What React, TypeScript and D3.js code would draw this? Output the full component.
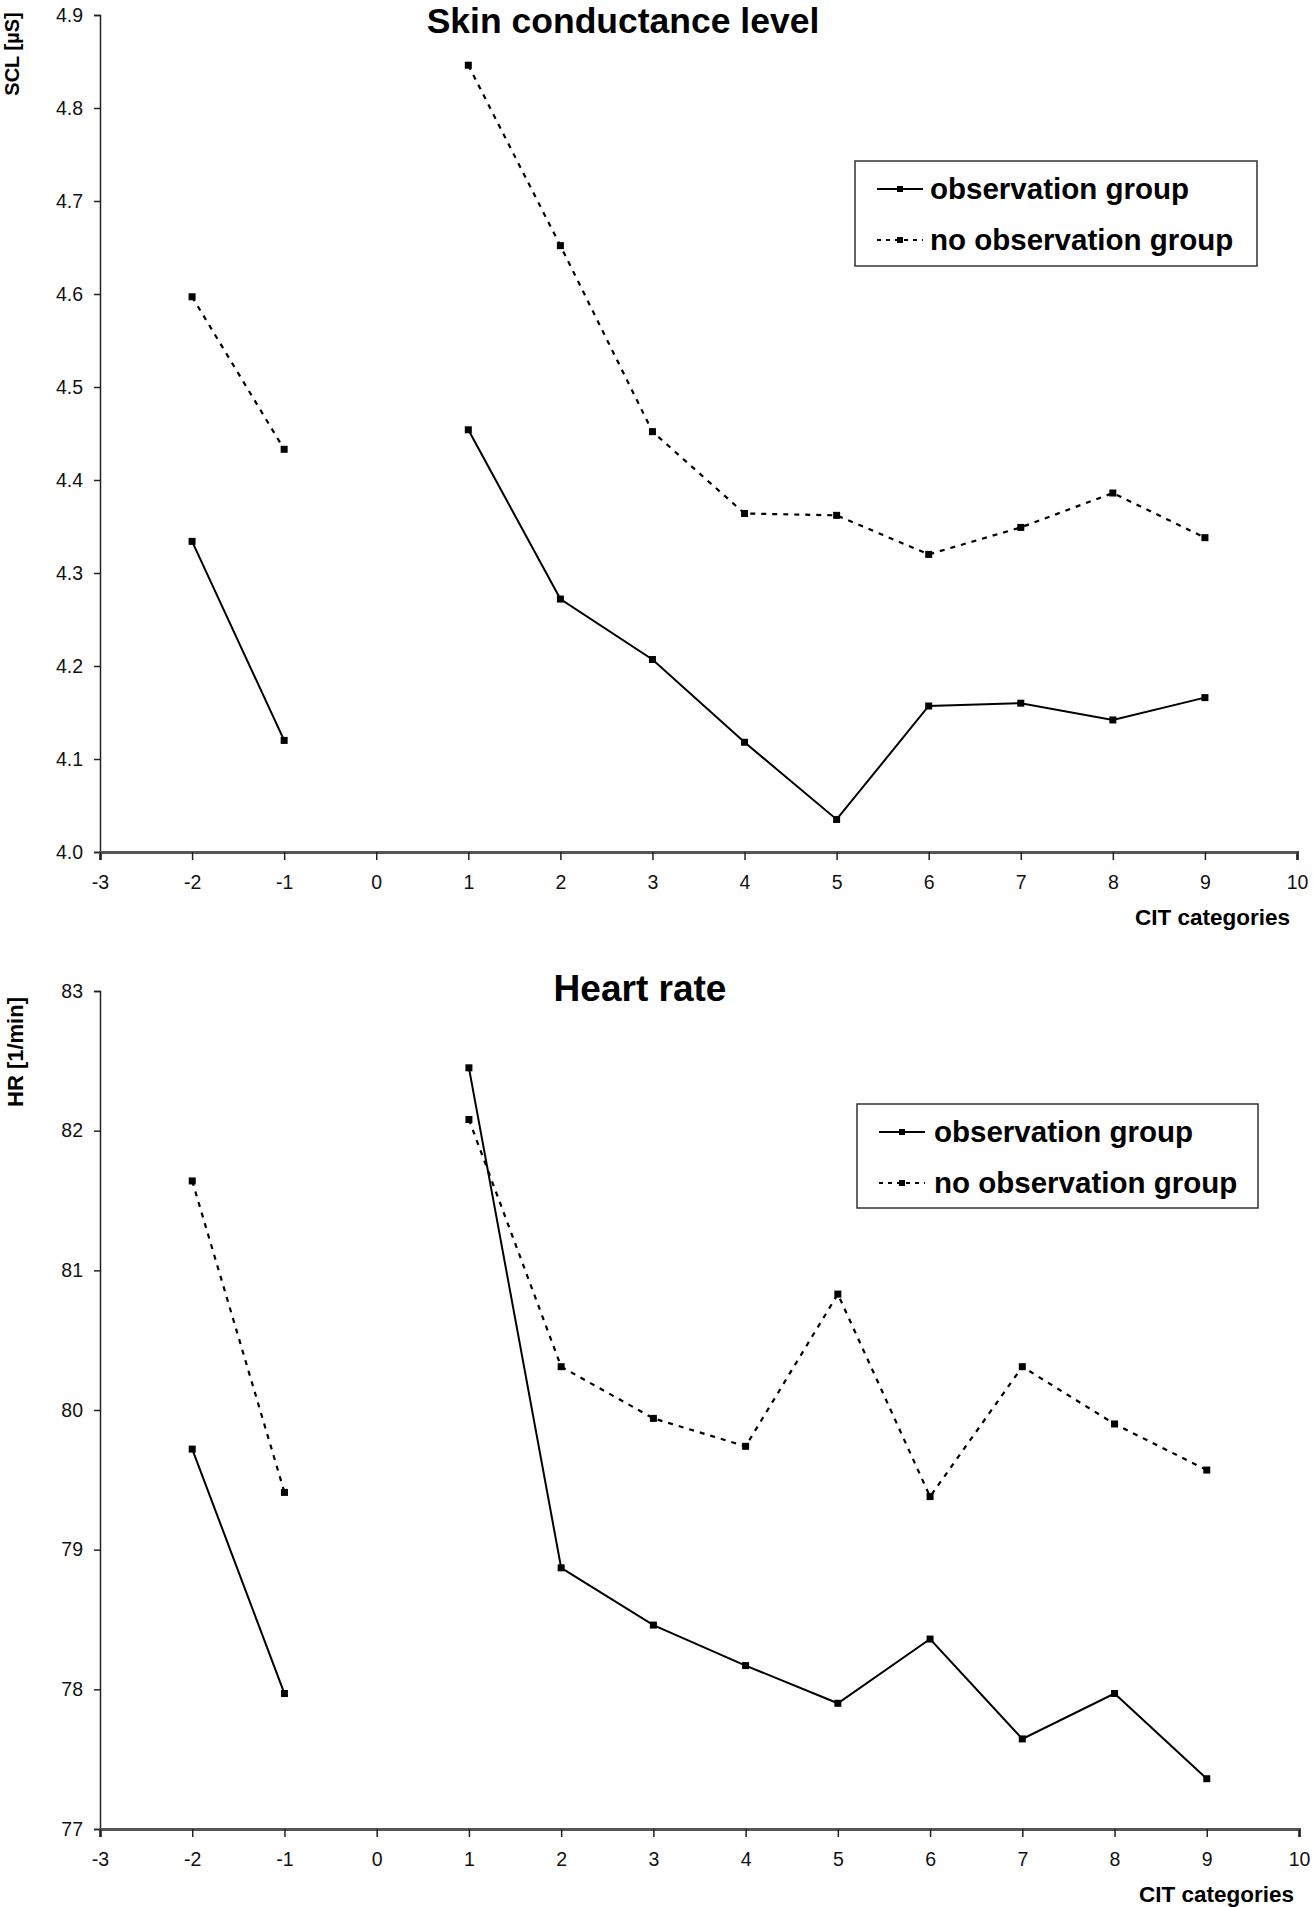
import { useEffect, useRef } from "react";
import * as d3 from "d3";

// CIT categories (0 has no measurement -> gap in the lines)
const categories = [-2, -1, 0, 1, 2, 3, 4, 5, 6, 7, 8, 9];
const xTickValues = [-3, -2, -1, 0, 1, 2, 3, 4, 5, 6, 7, 8, 9, 10];

const sclObservation = [4.334, 4.12, null, 4.454, 4.272, 4.207, 4.118, 4.035, 4.157, 4.16, 4.142, 4.166];
const sclNoObservation = [4.597, 4.433, null, 4.846, 4.652, 4.452, 4.364, 4.362, 4.32, 4.349, 4.386, 4.338];
const sclTicks = [4.0, 4.1, 4.2, 4.3, 4.4, 4.5, 4.6, 4.7, 4.8, 4.9];

const hrObservation = [79.72, 77.97, null, 82.45, 78.87, 78.46, 78.17, 77.9, 78.36, 77.645, 77.97, 77.36];
const hrNoObservation = [81.64, 79.41, null, 82.08, 80.31, 79.94, 79.74, 80.83, 79.38, 80.31, 79.9, 79.57];
const hrTicks = [77, 78, 79, 80, 81, 82, 83];

const legendLabels = ["observation group", "no observation group"];

const FONT = "'Liberation Sans', Arial, Helvetica, sans-serif";

interface PanelConfig {
  title: string;
  titleX: number;
  titleY: number;
  titleSize: number;
  yLabel: string;
  yLabelX: number;
  yLabelY: number;
  yLabelSize: number;
  yTicks: number[];
  yFormat: (d: number) => string;
  plotTop: number;
  plotBottom: number;
  plotLeft: number;
  plotRight: number;
  solid: (number | null)[];
  dashed: (number | null)[];
  legend: { x: number; y: number; w: number; h: number; textX: number };
  xLabelX: number;
  xLabelY: number;
}

function drawPanel(
  root: d3.Selection<SVGSVGElement, unknown, null, undefined>,
  cfg: PanelConfig
) {
  const g = root.append("g");

  const x = d3.scaleLinear().domain([-3, 10]).range([cfg.plotLeft, cfg.plotRight]);
  const y = d3
    .scaleLinear()
    .domain([cfg.yTicks[0], cfg.yTicks[cfg.yTicks.length - 1]])
    .range([cfg.plotBottom, cfg.plotTop]);

  // y axis
  const yAxis = g
    .append("g")
    .attr("transform", `translate(${cfg.plotLeft},0)`)
    .call(
      d3
        .axisLeft(y)
        .tickValues(cfg.yTicks)
        .tickSize(6)
        .tickPadding(11)
        .tickFormat((d) => cfg.yFormat(d as number))
    );
  yAxis.attr("font-family", FONT).attr("font-size", 19.5);
  yAxis.select(".domain").attr("stroke", "#222").attr("stroke-width", 1.5);
  yAxis.selectAll(".tick line").attr("stroke", "#222").attr("stroke-width", 1.5);
  yAxis.selectAll(".tick text").attr("fill", "#111");

  // x axis
  const xAxis = g
    .append("g")
    .attr("transform", `translate(0,${cfg.plotBottom})`)
    .call(
      d3
        .axisBottom(x)
        .tickValues(xTickValues)
        .tickSize(8)
        .tickPadding(15)
        .tickFormat((d) => String(d))
    );
  xAxis.attr("font-family", FONT).attr("font-size", 19.5);
  xAxis.select(".domain").attr("stroke", "#555").attr("stroke-width", 3);
  xAxis.selectAll(".tick line").attr("stroke", "#222").attr("stroke-width", 1.5);
  xAxis.selectAll(".tick text").attr("fill", "#111");

  // lines
  const pts = (vals: (number | null)[]) =>
    categories.map((c, i) => ({ c, v: vals[i] }));

  const line = d3
    .line<{ c: number; v: number | null }>()
    .defined((d) => d.v !== null)
    .x((d) => x(d.c))
    .y((d) => y(d.v as number));

  g.append("path")
    .datum(pts(cfg.dashed))
    .attr("fill", "none")
    .attr("stroke", "#000")
    .attr("stroke-width", 2.2)
    .attr("stroke-dasharray", "5,6")
    .attr("d", line);

  g.append("path")
    .datum(pts(cfg.solid))
    .attr("fill", "none")
    .attr("stroke", "#000")
    .attr("stroke-width", 2)
    .attr("d", line);

  const markers = [...pts(cfg.solid), ...pts(cfg.dashed)].filter((d) => d.v !== null);
  g.selectAll(".mk")
    .data(markers)
    .enter()
    .append("rect")
    .attr("x", (d) => x(d.c) - 3.5)
    .attr("y", (d) => y(d.v as number) - 3.5)
    .attr("width", 7)
    .attr("height", 7)
    .attr("fill", "#000");

  // titles
  g.append("text")
    .attr("x", cfg.titleX)
    .attr("y", cfg.titleY)
    .attr("text-anchor", "middle")
    .attr("font-family", FONT)
    .attr("font-weight", "bold")
    .attr("font-size", cfg.titleSize)
    .text(cfg.title);

  g.append("text")
    .attr("transform", `translate(${cfg.yLabelX},${cfg.yLabelY}) rotate(-90)`)
    .attr("text-anchor", "middle")
    .attr("font-family", FONT)
    .attr("font-weight", "bold")
    .attr("font-size", cfg.yLabelSize)
    .text(cfg.yLabel);

  g.append("text")
    .attr("x", cfg.xLabelX)
    .attr("y", cfg.xLabelY)
    .attr("text-anchor", "end")
    .attr("font-family", FONT)
    .attr("font-weight", "bold")
    .attr("font-size", 22.5)
    .text("CIT categories");

  // legend
  const lg = g.append("g").attr("transform", `translate(${cfg.legend.x},${cfg.legend.y})`);
  lg.append("rect")
    .attr("width", cfg.legend.w)
    .attr("height", cfg.legend.h)
    .attr("fill", "#fff")
    .attr("stroke", "#333")
    .attr("stroke-width", 1.5);

  legendLabels.forEach((label, i) => {
    const rowY = 28 + i * 51;
    const dashed = i === 1;
    lg.append("line")
      .attr("x1", 22)
      .attr("x2", 68)
      .attr("y1", rowY)
      .attr("y2", rowY)
      .attr("stroke", "#000")
      .attr("stroke-width", 2)
      .attr("stroke-dasharray", dashed ? "4,5" : null);
    lg.append("rect")
      .attr("x", 42)
      .attr("y", rowY - 3)
      .attr("width", 6)
      .attr("height", 6)
      .attr("fill", "#000");
    lg.append("text")
      .attr("x", cfg.legend.textX)
      .attr("y", rowY + 10)
      .attr("font-family", FONT)
      .attr("font-weight", "bold")
      .attr("font-size", 29.5)
      .text(label);
  });
}

export default function App() {
  const svgRef = useRef<SVGSVGElement>(null);

  useEffect(() => {
    if (!svgRef.current) return;
    const svg = d3.select(svgRef.current);
    svg.selectAll("*").remove();

    svg.append("rect").attr("width", 1313).attr("height", 1907).attr("fill", "#fff");

    drawPanel(svg, {
      title: "Skin conductance level",
      titleX: 623,
      titleY: 33,
      titleSize: 35.5,
      yLabel: "SCL [µS]",
      yLabelX: 19,
      yLabelY: 54,
      yLabelSize: 20,
      yTicks: sclTicks,
      yFormat: (d) => d3.format(".1f")(d),
      plotTop: 15,
      plotBottom: 852,
      plotLeft: 100,
      plotRight: 1297,
      solid: sclObservation,
      dashed: sclNoObservation,
      legend: { x: 855, y: 161, w: 402, h: 105, textX: 75 },
      xLabelX: 1290,
      xLabelY: 925,
    });

    drawPanel(svg, {
      title: "Heart rate",
      titleX: 640,
      titleY: 1001,
      titleSize: 37,
      yLabel: "HR [1/min]",
      yLabelX: 23,
      yLabelY: 1052,
      yLabelSize: 22,
      yTicks: hrTicks,
      yFormat: (d) => String(d),
      plotTop: 991,
      plotBottom: 1829,
      plotLeft: 100,
      plotRight: 1299,
      solid: hrObservation,
      dashed: hrNoObservation,
      legend: { x: 857, y: 1104, w: 401, h: 104, textX: 77 },
      xLabelX: 1294,
      xLabelY: 1902,
    });
  }, []);

  return (
    <svg
      ref={svgRef}
      width={1313}
      height={1907}
      style={{ position: "absolute", left: 0, top: 0, display: "block" }}
    />
  );
}
